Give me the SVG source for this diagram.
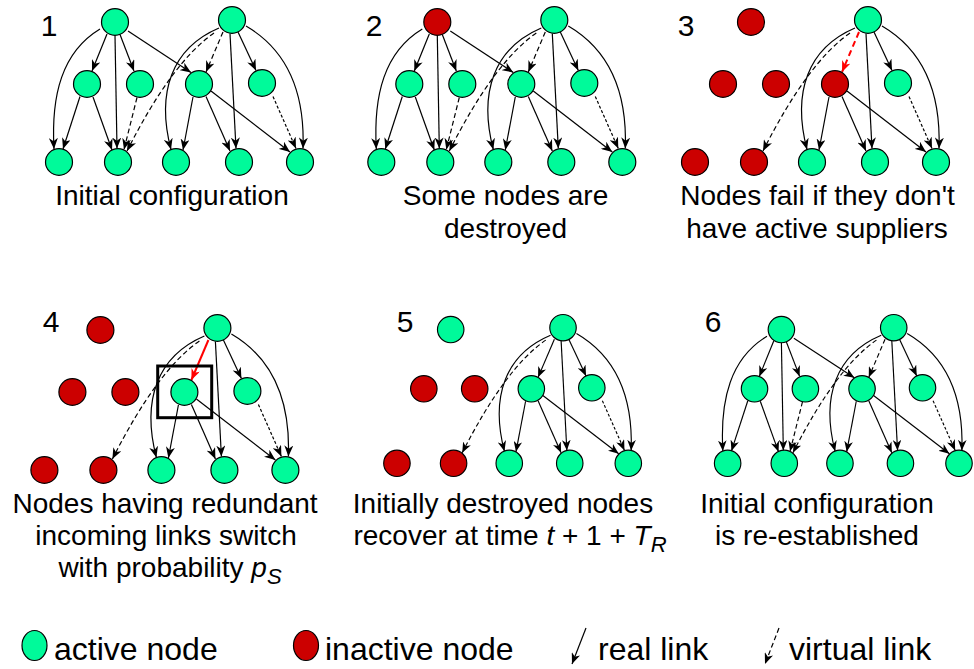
<svg xmlns="http://www.w3.org/2000/svg" width="974" height="669" viewBox="0 0 974 669">
  <defs>
    <style>
      .act { fill: #00fa9a; stroke: #000; stroke-width: 1.2; }
      .dead { fill: #cc0000; stroke: #000; stroke-width: 1.2; }
      .lk { fill: none; stroke: #000; stroke-width: 1.2; marker-end: url(#arw); }
      .dash { stroke-dasharray: 5 3; }
      .dot { stroke-dasharray: 3 2; }
      .rlk { fill: none; stroke: #ff0000; stroke-width: 2; marker-end: url(#arw-red); }
      .rdash { stroke-dasharray: 6 4; }
      .num { font-family: "Liberation Sans", Arial, sans-serif; font-size: 30px; fill: #000; text-anchor: middle; }
      .cap { font-family: "Liberation Sans", Arial, sans-serif; font-size: 28px; fill: #000; text-anchor: middle; }
      .leg { font-family: "Liberation Sans", Arial, sans-serif; font-size: 32px; fill: #000; }
      .it { font-style: italic; }
      .sub { font-style: italic; font-size: 22px; }
      .box { fill: none; stroke: #000; stroke-width: 3; }
    </style>
    <marker id="arw" viewBox="0 0 11 9" refX="11" refY="4.5" markerWidth="11" markerHeight="9" markerUnits="userSpaceOnUse" orient="auto">
      <path d="M0,0 L11,4.5 L0,9 L3.2,4.5 Z" fill="#000"/>
    </marker>
    <marker id="arw-red" viewBox="0 0 11 9" refX="11" refY="4.5" markerWidth="11" markerHeight="9" markerUnits="userSpaceOnUse" orient="auto">
      <path d="M0,0 L11,4.5 L0,9 L3.2,4.5 Z" fill="#ff0000"/>
    </marker>
  </defs>

  <!-- Panel 1: initial configuration -->
  <g id="panel1">
    <g id="p1-links">
      <path class="lk" d="M100,29 C62,52 51,95 54,149"/>
      <path class="lk" d="M107,34 L92,71"/>
      <path class="lk" d="M115,35.5 L117,148.5"/>
      <path class="lk" d="M120,34.5 L134,71"/>
      <path class="lk" d="M128,31 L191,72.5"/>
      <path class="lk" d="M80,96.5 L63,149"/>
      <path class="lk" d="M93,97 L112,150"/>
      <path class="lk dash" d="M137,97.5 L124,149.5"/>
      <path class="lk dash" d="M223,32 L206,72"/>
      <path class="lk" d="M219,28 C172,48 156,92 171,149.5"/>
      <path class="lk dash" d="M214,33 Q172,62 127,151"/>
      <path class="lk" d="M230,33.5 L236,148.5"/>
      <path class="lk" d="M238,32 L256,70.5"/>
      <path class="lk" d="M246,26 C287,50 305,92 303,148.5"/>
      <path class="lk" d="M193,97 L183,150"/>
      <path class="lk" d="M206,96.5 L230,151"/>
      <path class="lk" d="M211,91 L290,152"/>
      <path class="lk dot" d="M273,96.5 L296,148.5"/>
    </g>
    <g id="p1-a"><ellipse class="act" cx="115" cy="22" rx="13.5" ry="13.3"/></g>
    <g id="p1-b"><ellipse class="act" cx="232" cy="20" rx="13.5" ry="13.3"/></g>
    <g id="p1-m1"><ellipse class="act" cx="87" cy="84" rx="13.5" ry="13.3"/></g>
    <g id="p1-m2"><ellipse class="act" cx="140" cy="84" rx="13.5" ry="13.3"/></g>
    <g id="p1-m3"><ellipse class="act" cx="199" cy="84" rx="13.5" ry="13.3"/></g>
    <g id="p1-m4"><ellipse class="act" cx="262" cy="83" rx="13.5" ry="13.3"/></g>
    <g id="p1-l1"><ellipse class="act" cx="59" cy="162" rx="13.5" ry="13.3"/></g>
    <g id="p1-l2"><ellipse class="act" cx="118" cy="162" rx="13.5" ry="13.3"/></g>
    <g id="p1-l3"><ellipse class="act" cx="176" cy="162" rx="13.5" ry="13.3"/></g>
    <g id="p1-l4"><ellipse class="act" cx="239" cy="162" rx="13.5" ry="13.3"/></g>
    <g id="p1-l5"><ellipse class="act" cx="300" cy="162" rx="13.5" ry="13.3"/></g>
  </g>
  <text class="num" x="49" y="36">1</text>
  <text class="cap" x="172" y="205">Initial configuration</text>

  <!-- Panel 2: some nodes are destroyed -->
  <g id="panel2" transform="translate(322.3,0)">
    <g id="p2-links">
      <path class="lk" d="M100,29 C62,52 51,95 54,149"/>
      <path class="lk" d="M107,34 L92,71"/>
      <path class="lk" d="M115,35.5 L117,148.5"/>
      <path class="lk" d="M120,34.5 L134,71"/>
      <path class="lk" d="M128,31 L191,72.5"/>
      <path class="lk" d="M80,96.5 L63,149"/>
      <path class="lk" d="M93,97 L112,150"/>
      <path class="lk dash" d="M137,97.5 L124,149.5"/>
      <path class="lk dash" d="M223,32 L206,72"/>
      <path class="lk" d="M219,28 C172,48 156,92 171,149.5"/>
      <path class="lk dash" d="M214,33 Q172,62 127,151"/>
      <path class="lk" d="M230,33.5 L236,148.5"/>
      <path class="lk" d="M238,32 L256,70.5"/>
      <path class="lk" d="M246,26 C287,50 305,92 303,148.5"/>
      <path class="lk" d="M193,97 L183,150"/>
      <path class="lk" d="M206,96.5 L230,151"/>
      <path class="lk" d="M211,91 L290,152"/>
      <path class="lk dot" d="M273,96.5 L296,148.5"/>
    </g>
    <g id="p2-a"><ellipse class="dead" cx="115" cy="22" rx="13.5" ry="13.3"/></g>
    <g id="p2-b"><ellipse class="act" cx="232" cy="20" rx="13.5" ry="13.3"/></g>
    <g id="p2-m1"><ellipse class="act" cx="87" cy="84" rx="13.5" ry="13.3"/></g>
    <g id="p2-m2"><ellipse class="act" cx="140" cy="84" rx="13.5" ry="13.3"/></g>
    <g id="p2-m3"><ellipse class="act" cx="199" cy="84" rx="13.5" ry="13.3"/></g>
    <g id="p2-m4"><ellipse class="act" cx="262" cy="83" rx="13.5" ry="13.3"/></g>
    <g id="p2-l1"><ellipse class="act" cx="59" cy="162" rx="13.5" ry="13.3"/></g>
    <g id="p2-l2"><ellipse class="act" cx="118" cy="162" rx="13.5" ry="13.3"/></g>
    <g id="p2-l3"><ellipse class="act" cx="176" cy="162" rx="13.5" ry="13.3"/></g>
    <g id="p2-l4"><ellipse class="act" cx="239" cy="162" rx="13.5" ry="13.3"/></g>
    <g id="p2-l5"><ellipse class="act" cx="300" cy="162" rx="13.5" ry="13.3"/></g>
  </g>
  <text class="num" x="374" y="36">2</text>
  <text class="cap" x="505.5" y="205">Some nodes are</text>
  <text class="cap" x="505.5" y="238">destroyed</text>

  <!-- Panel 3: cascading failure -->
  <g id="panel3" transform="translate(636,0)">
    <g id="p3-links">
      <path class="rlk rdash" d="M223,32 L206,72"/>
      <path class="lk" d="M219,28 C172,48 156,92 171,149.5"/>
      <path class="lk dash" d="M214,33 Q172,62 127,151"/>
      <path class="lk" d="M230,33.5 L236,148.5"/>
      <path class="lk" d="M238,32 L256,70.5"/>
      <path class="lk" d="M246,26 C287,50 305,92 303,148.5"/>
      <path class="lk" d="M193,97 L183,150"/>
      <path class="lk" d="M206,96.5 L230,151"/>
      <path class="lk" d="M211,91 L290,152"/>
      <path class="lk dot" d="M273,96.5 L296,148.5"/>
    </g>
    <g id="p3-a"><ellipse class="dead" cx="115" cy="22" rx="13.5" ry="13.3"/></g>
    <g id="p3-b"><ellipse class="act" cx="232" cy="20" rx="13.5" ry="13.3"/></g>
    <g id="p3-m1"><ellipse class="dead" cx="87" cy="84" rx="13.5" ry="13.3"/></g>
    <g id="p3-m2"><ellipse class="dead" cx="140" cy="84" rx="13.5" ry="13.3"/></g>
    <g id="p3-m3"><ellipse class="dead" cx="199" cy="84" rx="13.5" ry="13.3"/></g>
    <g id="p3-m4"><ellipse class="act" cx="262" cy="83" rx="13.5" ry="13.3"/></g>
    <g id="p3-l1"><ellipse class="dead" cx="59" cy="162" rx="13.5" ry="13.3"/></g>
    <g id="p3-l2"><ellipse class="dead" cx="118" cy="162" rx="13.5" ry="13.3"/></g>
    <g id="p3-l3"><ellipse class="act" cx="176" cy="162" rx="13.5" ry="13.3"/></g>
    <g id="p3-l4"><ellipse class="act" cx="239" cy="162" rx="13.5" ry="13.3"/></g>
    <g id="p3-l5"><ellipse class="act" cx="300" cy="162" rx="13.5" ry="13.3"/></g>
  </g>
  <text class="num" x="686" y="36">3</text>
  <text class="cap" x="817.5" y="205">Nodes fail if they don't</text>
  <text class="cap" x="817" y="238">have active suppliers</text>

  <!-- Panel 4: switching of redundant incoming links -->
  <g id="panel4" transform="translate(-14.6,308)">
    <g id="p4-links">
      <path class="rlk" d="M223,32 L206,72"/>
      <path class="lk" d="M219,28 C172,48 156,92 171,149.5"/>
      <path class="lk dash" d="M214,33 Q172,62 127,151"/>
      <path class="lk" d="M230,33.5 L236,148.5"/>
      <path class="lk" d="M238,32 L256,70.5"/>
      <path class="lk" d="M246,26 C287,50 305,92 303,148.5"/>
      <path class="lk" d="M193,97 L183,150"/>
      <path class="lk" d="M206,96.5 L230,151"/>
      <path class="lk" d="M211,91 L290,152"/>
      <path class="lk dot" d="M273,96.5 L296,148.5"/>
    </g>
    <g id="p4-a"><ellipse class="dead" cx="115" cy="22" rx="13.5" ry="13.3"/></g>
    <g id="p4-b"><ellipse class="act" cx="232" cy="20" rx="13.5" ry="13.3"/></g>
    <g id="p4-m1"><ellipse class="dead" cx="87" cy="84" rx="13.5" ry="13.3"/></g>
    <g id="p4-m2"><ellipse class="dead" cx="140" cy="84" rx="13.5" ry="13.3"/></g>
    <g id="p4-m3"><ellipse class="act" cx="199" cy="84" rx="13.5" ry="13.3"/></g>
    <g id="p4-m4"><ellipse class="act" cx="262" cy="83" rx="13.5" ry="13.3"/></g>
    <g id="p4-l1"><ellipse class="dead" cx="59" cy="162" rx="13.5" ry="13.3"/></g>
    <g id="p4-l2"><ellipse class="dead" cx="118" cy="162" rx="13.5" ry="13.3"/></g>
    <g id="p4-l3"><ellipse class="act" cx="176" cy="162" rx="13.5" ry="13.3"/></g>
    <g id="p4-l4"><ellipse class="act" cx="239" cy="162" rx="13.5" ry="13.3"/></g>
    <g id="p4-l5"><ellipse class="act" cx="300" cy="162" rx="13.5" ry="13.3"/></g>
    <rect id="p4-focus" class="box" x="172.3" y="58" width="54" height="51.7"/>
  </g>
  <text class="num" x="51" y="332">4</text>
  <text class="cap" x="165" y="513">Nodes having redundant</text>
  <text class="cap" x="166" y="545">incoming links switch</text>
  <text class="cap" x="170" y="577">with probability <tspan class="it">p</tspan><tspan class="sub" dy="7">S</tspan></text>

  <!-- Panel 5: recovery of destroyed nodes -->
  <g id="panel5" transform="translate(340.3,308.6) scale(0.96,0.955)">
    <g id="p5-links">
      <path class="lk" d="M223,32 L206,72"/>
      <path class="lk" d="M219,28 C172,48 156,92 171,149.5"/>
      <path class="lk dash" d="M214,33 Q172,62 127,151"/>
      <path class="lk" d="M230,33.5 L236,148.5"/>
      <path class="lk" d="M238,32 L256,70.5"/>
      <path class="lk" d="M246,26 C287,50 305,92 303,148.5"/>
      <path class="lk" d="M193,97 L183,150"/>
      <path class="lk" d="M206,96.5 L230,151"/>
      <path class="lk" d="M211,91 L290,152"/>
      <path class="lk dot" d="M273,96.5 L296,148.5"/>
    </g>
    <g id="p5-a"><ellipse class="act" cx="115" cy="22" rx="13.8" ry="13.8"/></g>
    <g id="p5-b"><ellipse class="act" cx="232" cy="20" rx="13.8" ry="13.8"/></g>
    <g id="p5-m1"><ellipse class="dead" cx="87" cy="84" rx="13.8" ry="13.8"/></g>
    <g id="p5-m2"><ellipse class="dead" cx="140" cy="84" rx="13.8" ry="13.8"/></g>
    <g id="p5-m3"><ellipse class="act" cx="199" cy="84" rx="13.8" ry="13.8"/></g>
    <g id="p5-m4"><ellipse class="act" cx="262" cy="83" rx="13.8" ry="13.8"/></g>
    <g id="p5-l1"><ellipse class="dead" cx="59" cy="162" rx="13.8" ry="13.8"/></g>
    <g id="p5-l2"><ellipse class="dead" cx="118" cy="162" rx="13.8" ry="13.8"/></g>
    <g id="p5-l3"><ellipse class="act" cx="176" cy="162" rx="13.8" ry="13.8"/></g>
    <g id="p5-l4"><ellipse class="act" cx="239" cy="162" rx="13.8" ry="13.8"/></g>
    <g id="p5-l5"><ellipse class="act" cx="300" cy="162" rx="13.8" ry="13.8"/></g>
  </g>
  <text class="num" x="405" y="332">5</text>
  <text class="cap" x="503" y="513">Initially destroyed nodes</text>
  <text class="cap" x="510" y="545">recover at time <tspan class="it">t</tspan> + 1 + <tspan class="it">T</tspan><tspan class="sub" dy="7">R</tspan></text>

  <!-- Panel 6: initial configuration restored -->
  <g id="panel6" transform="translate(671,308.6) scale(0.96,0.955)">
    <g id="p6-links">
      <path class="lk" d="M100,29 C62,52 51,95 54,149"/>
      <path class="lk" d="M107,34 L92,71"/>
      <path class="lk" d="M115,35.5 L117,148.5"/>
      <path class="lk" d="M120,34.5 L134,71"/>
      <path class="lk" d="M128,31 L191,72.5"/>
      <path class="lk" d="M80,96.5 L63,149"/>
      <path class="lk" d="M93,97 L112,150"/>
      <path class="lk dash" d="M137,97.5 L124,149.5"/>
      <path class="lk dash" d="M223,32 L206,72"/>
      <path class="lk" d="M219,28 C172,48 156,92 171,149.5"/>
      <path class="lk dash" d="M214,33 Q172,62 127,151"/>
      <path class="lk" d="M230,33.5 L236,148.5"/>
      <path class="lk" d="M238,32 L256,70.5"/>
      <path class="lk" d="M246,26 C287,50 305,92 303,148.5"/>
      <path class="lk" d="M193,97 L183,150"/>
      <path class="lk" d="M206,96.5 L230,151"/>
      <path class="lk" d="M211,91 L290,152"/>
      <path class="lk dot" d="M273,96.5 L296,148.5"/>
    </g>
    <g id="p6-a"><ellipse class="act" cx="115" cy="22" rx="13.8" ry="13.8"/></g>
    <g id="p6-b"><ellipse class="act" cx="232" cy="20" rx="13.8" ry="13.8"/></g>
    <g id="p6-m1"><ellipse class="act" cx="87" cy="84" rx="13.8" ry="13.8"/></g>
    <g id="p6-m2"><ellipse class="act" cx="140" cy="84" rx="13.8" ry="13.8"/></g>
    <g id="p6-m3"><ellipse class="act" cx="199" cy="84" rx="13.8" ry="13.8"/></g>
    <g id="p6-m4"><ellipse class="act" cx="262" cy="83" rx="13.8" ry="13.8"/></g>
    <g id="p6-l1"><ellipse class="act" cx="59" cy="162" rx="13.8" ry="13.8"/></g>
    <g id="p6-l2"><ellipse class="act" cx="118" cy="162" rx="13.8" ry="13.8"/></g>
    <g id="p6-l3"><ellipse class="act" cx="176" cy="162" rx="13.8" ry="13.8"/></g>
    <g id="p6-l4"><ellipse class="act" cx="239" cy="162" rx="13.8" ry="13.8"/></g>
    <g id="p6-l5"><ellipse class="act" cx="300" cy="162" rx="13.8" ry="13.8"/></g>
  </g>
  <text class="num" x="713" y="332">6</text>
  <text class="cap" x="817" y="513">Initial configuration</text>
  <text class="cap" x="817" y="545">is re-established</text>

  <!-- Legend -->
  <g id="legend">
    <g id="leg-active">
      <ellipse class="act" cx="34.5" cy="645.5" rx="12.5" ry="15"/>
      <text class="leg" x="54" y="660">active node</text>
    </g>
    <g id="leg-inactive">
      <ellipse class="dead" cx="306" cy="645.5" rx="12.5" ry="15"/>
      <text class="leg" x="325" y="660">inactive node</text>
    </g>
    <g id="leg-real">
      <path class="lk" d="M586,628 L572,664"/>
      <text class="leg" x="598" y="660">real link</text>
    </g>
    <g id="leg-virtual">
      <path class="lk dash" d="M779,628 L765,664"/>
      <text class="leg" x="789" y="660">virtual link</text>
    </g>
  </g>
</svg>
